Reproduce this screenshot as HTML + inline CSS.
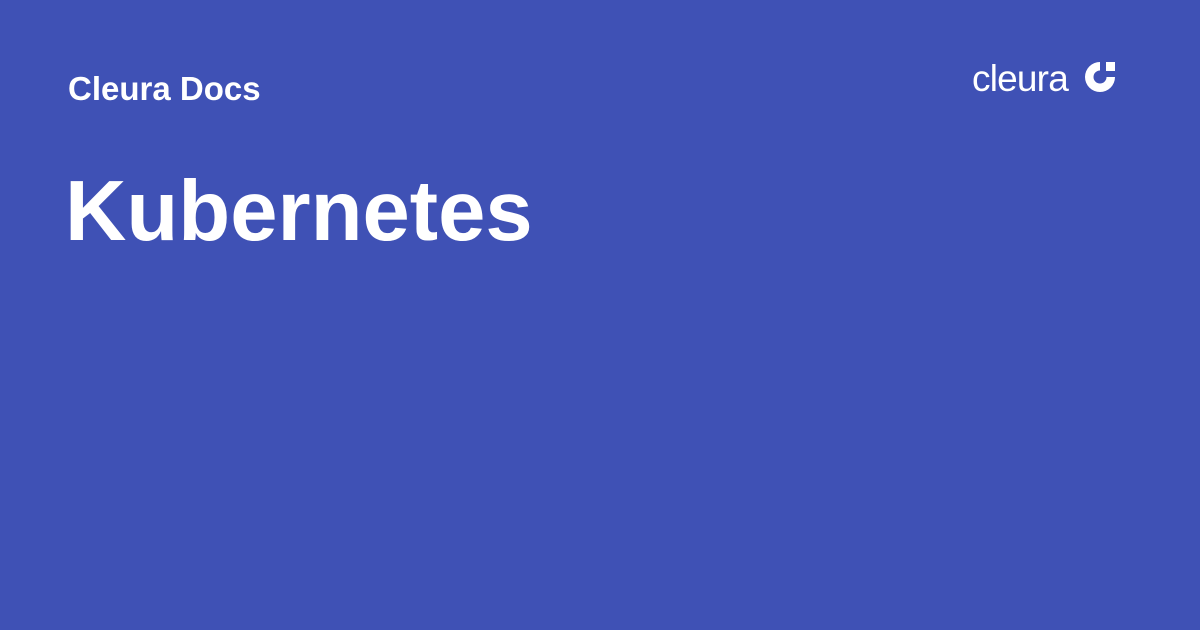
<!DOCTYPE html>
<html><head><meta charset="utf-8"><style>
html,body{margin:0;padding:0}
body{width:1200px;height:630px;background:#3f51b5;position:relative;overflow:hidden;font-family:"Liberation Sans",sans-serif;color:#fff}
.t{position:absolute;white-space:nowrap;font-weight:bold;line-height:1}
</style></head><body>
<div class="t" style="left:68px;top:72px;font-size:33px">Cleura Docs</div>
<div class="t" style="left:65px;top:169px;font-size:85px">Kubernetes</div>
<div class="t" style="left:972px;top:60px;font-size:37px;font-weight:normal;letter-spacing:-0.8px">cleura</div>
<svg style="position:absolute;left:1082px;top:59px" width="36" height="36" viewBox="0 0 36 36">
<path d="M18 3 A15 15 0 1 0 33 18 L24.5 18 A6.5 6.5 0 1 1 18 11.5 Z" fill="#fff"/>
<rect x="24" y="3" width="9" height="9" fill="#fff"/>
</svg>
</body></html>
